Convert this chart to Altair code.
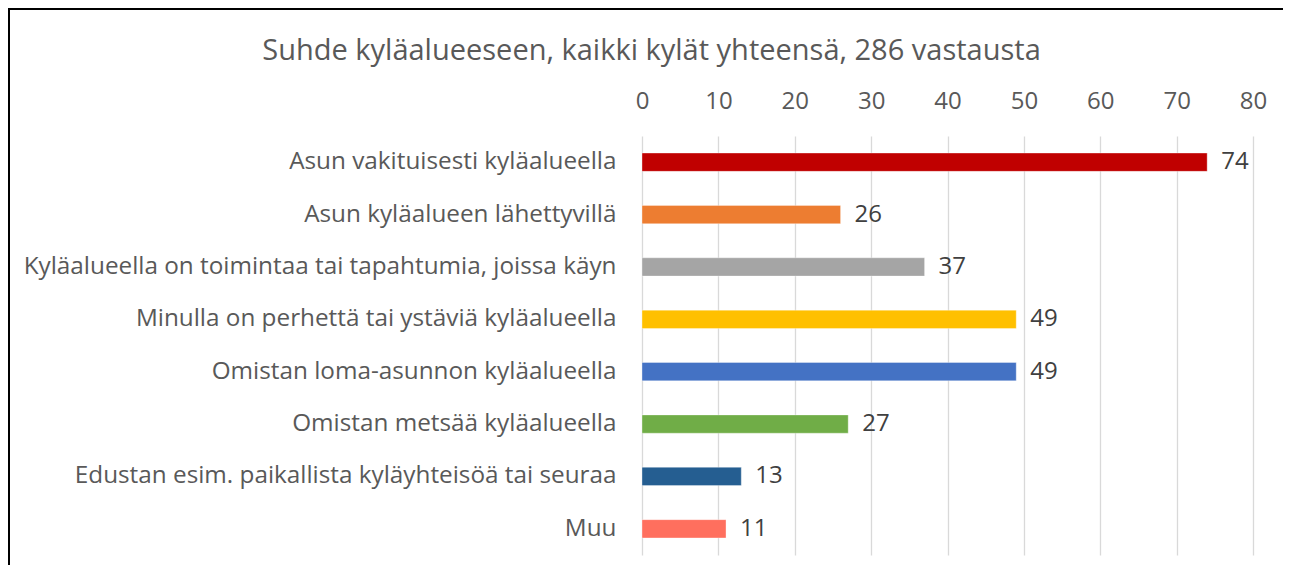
import altair as alt
import pandas as pd

categories = [
    "Asun vakituisesti kyläalueella",
    "Asun kyläalueen lähettyvillä",
    "Kyläalueella on toimintaa tai tapahtumia, joissa käyn",
    "Minulla on perhettä tai ystäviä kyläalueella",
    "Omistan loma-asunnon kyläalueella",
    "Omistan metsää kyläalueella",
    "Edustan esim. paikallista kyläyhteisöä tai seuraa",
    "Muu",
]
values = [74, 26, 37, 49, 49, 27, 13, 11]
colors = ["#C00000", "#ED7D31", "#A5A5A5", "#FFC000", "#4472C4", "#70AD47", "#255E91", "#FF6F5E"]

df = pd.DataFrame({"kategoria": categories, "vastauksia": values, "vari": colors})

FONT = "Open Sans"
W, H = 611, 419

y_enc = alt.Y(
    "kategoria:N",
    sort=categories,
    scale=alt.Scale(paddingInner=0.65, paddingOuter=0.325),
    axis=alt.Axis(
        title=None, domain=False, ticks=False, grid=False, labelPadding=26,
        labelFontSize=24.3, labelColor="#595959", labelFont=FONT, labelLimit=800,
    ),
)
x_enc = alt.X(
    "vastauksia:Q",
    scale=alt.Scale(domain=[0, 80], nice=False),
    axis=alt.Axis(
        orient="top", title=None, values=[0, 10, 20, 30, 40, 50, 60, 70, 80],
        domain=False, ticks=False, labelPadding=23, labelFontSize=24,
        labelFlush=False, labelOverlap=False,
        labelColor="#595959", labelFont=FONT, grid=True, gridColor="#D9D9D9",
        gridWidth=1.3,
    ),
)

bars = alt.Chart(df).mark_bar(stroke="#FFFFFF", strokeOpacity=0.35, strokeWidth=1).encode(
    x=x_enc, y=y_enc, color=alt.Color("vari:N", scale=None)
)
labels = alt.Chart(df).mark_text(
    align="left", baseline="middle", dx=14, fontSize=24, font=FONT, color="#404040"
).encode(
    x=x_enc, y=y_enc, text="vastauksia:Q"
)

frame_left = alt.Chart(df).mark_rule(color="#000000", strokeWidth=1.5).encode(
    x=alt.value(-633.2), y=alt.value(-128), y2=alt.value(H + 10)
)
frame_top = alt.Chart(df).mark_rule(color="#000000", strokeWidth=1.5).encode(
    x=alt.value(-634), x2=alt.value(W + 40), y=alt.value(-127.2)
)

chart = (
    alt.layer(bars, labels, frame_left, frame_top)
    .properties(
        width=W,
        height=H,
        autosize=alt.AutoSizeParams(type="none"),
        padding={"left": 634, "top": 128, "right": 30, "bottom": 10},
        view=alt.ViewBackground(stroke="transparent", strokeWidth=0),
        title=alt.Title(
            "Suhde kyläalueeseen, kaikki kylät yhteensä, 286 vastausta",
            fontSize=29, font=FONT, fontWeight="normal", color="#595959",
            anchor="middle", frame="group", dx=-296, offset=0, dy=59,
        ),
    )
    .configure_view(stroke="transparent", strokeWidth=0)
    .configure_axis(domain=False)
    .configure(background="#FFFFFF")
)

chart.save("out.html", embed_options={"renderer": "svg", "actions": False})
